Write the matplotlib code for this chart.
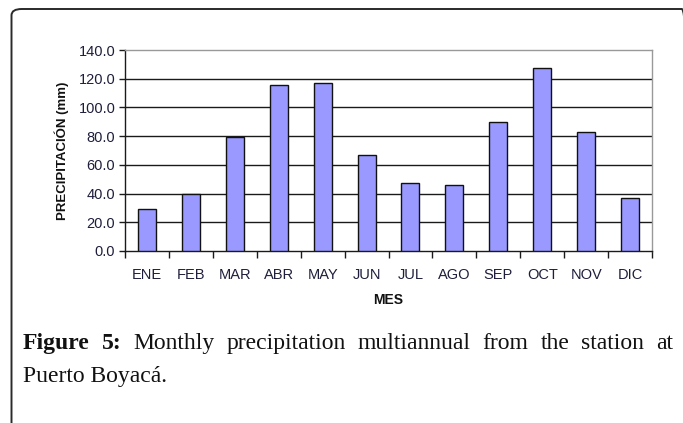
import matplotlib.pyplot as plt
from matplotlib.patches import FancyBboxPatch

months = ['ENE', 'FEB', 'MAR', 'ABR', 'MAY', 'JUN', 'JUL', 'AGO', 'SEP', 'OCT', 'NOV', 'DIC']
precip = [29.0, 39.5, 79.6, 115.4, 117.2, 66.9, 47.6, 46.0, 89.6, 127.7, 82.7, 36.9]
yticks = [0, 20, 40, 60, 80, 100, 120, 140]
caption_bold = 'Figure 5:'
caption_line1 = 'Monthly precipitation multiannual from the station at'
caption_line2 = 'Puerto Boyacá.'

W, H = 683, 423
fig = plt.figure(figsize=(W / 100, H / 100), dpi=100)
plt.rcParams['font.family'] = ['Liberation Sans', 'DejaVu Sans']

# outer rounded frame (runs off the right/bottom edge)
frame = FancyBboxPatch((11.5 / W, -0.2), (692 - 11.5) / W, (H - 9 + 0.2 * H) / H,
                       boxstyle='round,pad=0,rounding_size=0.015',
                       transform=fig.transFigure, fill=False, lw=1.4, ec='#2a2a2a')
fig.patches.append(frame)

ax = fig.add_axes([125 / W, 1 - 251 / H, (652 - 125) / W, (251 - 50) / H])
x = list(range(len(months)))
ax.bar(x, precip, width=0.41, color='#9999ff', edgecolor='#111111', linewidth=1.0, zorder=3)

ax.set_xlim(-0.5, 11.5)
ax.set_ylim(0, 140)
ax.set_yticks(yticks)
ax.set_yticklabels([f'{v:.1f}' for v in yticks])
for v in yticks[1:-1]:
    ax.axhline(v, color='#1a1a1a', lw=1.0, zorder=1)

# ticks at category boundaries, labels at centers
ax.set_xticks([i - 0.5 for i in range(13)])
ax.set_xticklabels([])
ax.set_xticks(x, minor=True)
ax.set_xticklabels(months, minor=True)
ax.tick_params(axis='x', which='major', length=5, width=1, color='#1a1a1a', direction='out')
ax.tick_params(axis='x', which='minor', length=0, pad=12, labelsize=10.5, labelcolor='#1e1e3c')
ax.tick_params(axis='y', length=4, width=1, color='#1a1a1a', labelsize=10.5, labelcolor='#1e1e3c', pad=3)

ax.spines['left'].set_color('#1a1a1a')
ax.spines['bottom'].set_color('#1a1a1a')
ax.spines['top'].set_color('#999999')
ax.spines['right'].set_color('#999999')
for s in ax.spines.values():
    s.set_linewidth(1.0)

ax.set_xlabel('MES', fontsize=10, fontweight='bold', color='#111111', labelpad=8)
ax.set_ylabel('PRECIPITACIÓN (mm)', fontsize=9.5, fontweight='bold', color='#111111', labelpad=7)

# caption, justified first line
cap_size = 17
left_px, right_px = 23, 673
fig.canvas.draw()
r = fig.canvas.get_renderer()
words = [(w, 'bold') for w in caption_bold.split()] + \
        [(w, 'normal') for w in caption_line1.split()]
texts = []
for w, wt in words:
    t = fig.text(0, 1 - 349 / H, w, fontsize=cap_size, fontweight=wt,
                 family='Liberation Serif', color='#111111', va='baseline')
    texts.append(t)
widths = [t.get_window_extent(r).width for t in texts]
gap = (right_px - left_px - sum(widths)) / (len(words) - 1)
xp = left_px
for t, wd in zip(texts, widths):
    t.set_x(xp / W)
    xp += wd + gap
fig.text(left_px / W, 1 - 382 / H, caption_line2, fontsize=cap_size,
         family='Liberation Serif', color='#111111', va='baseline')

fig.savefig('out.png', dpi=100)
